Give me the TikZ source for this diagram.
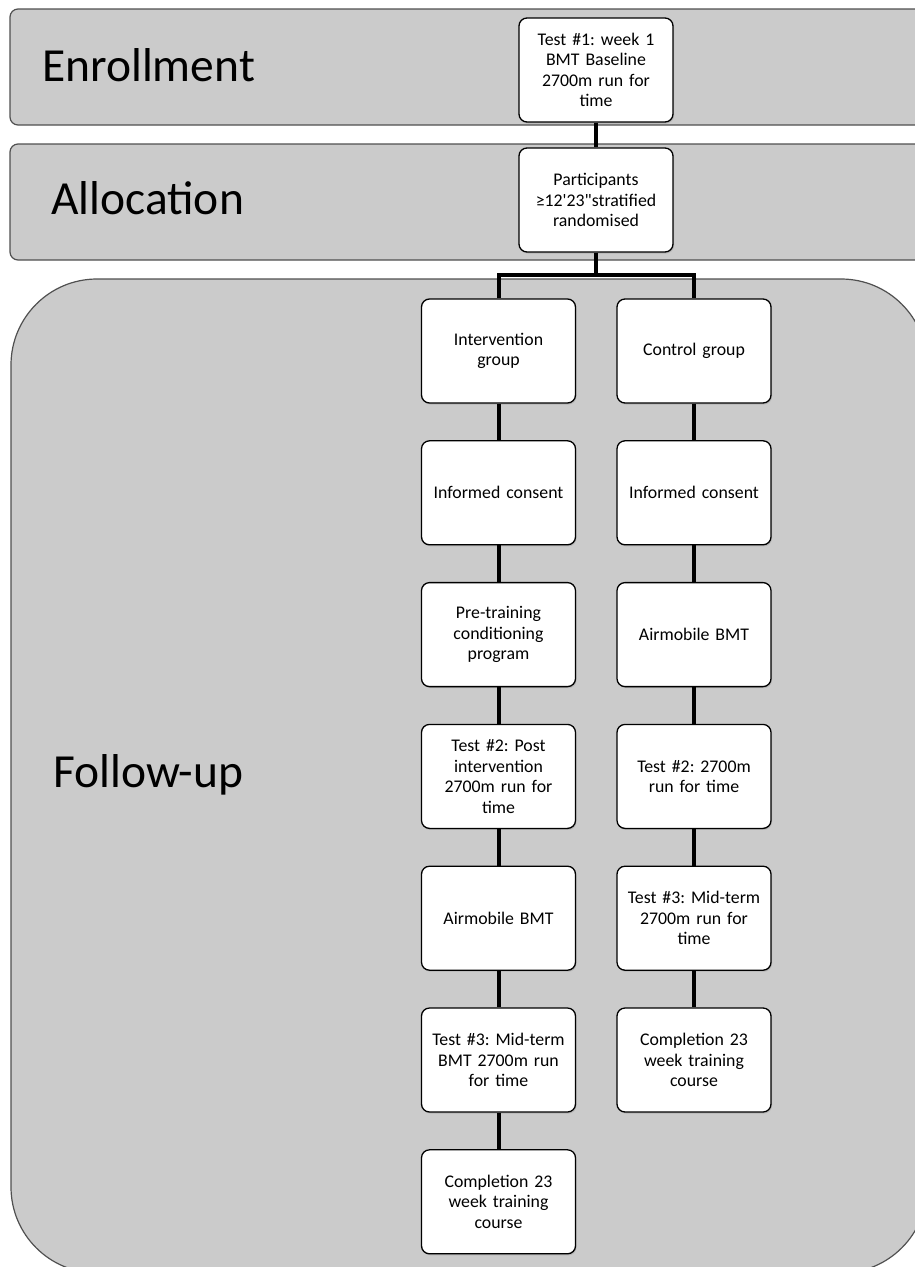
\documentclass[tikz,border=0pt]{standalone}
\usepackage{fontspec}
\setmainfont{Carlito}[Ligatures=TeXOff]
\usetikzlibrary{positioning,shadows}
\definecolor{bandgray}{HTML}{CBCBCB}
\definecolor{bandline}{HTML}{505050}
\frenchspacing
\tikzset{
	band/.style={draw=bandline, line width=1.2pt, fill=bandgray, rounded corners=8pt},
	bandlabel/.style={font=\fontsize{47.5}{54}\selectfont, anchor=base west, inner sep=0pt},
	box/.style={draw, line width=1.3pt, fill=white, rounded corners=8pt,
		minimum width=154pt, minimum height=104pt, text width=146pt, align=center,
		inner sep=2pt, font=\fontsize{17.8}{20.5}\selectfont,
		drop shadow={opacity=0.3, shadow xshift=1pt, shadow yshift=-1.5pt}},
	link/.style={line width=4pt}
}

\begin{document}
\begin{tikzpicture}[x=1pt, y=-1pt, node distance=36.5pt]
	\useasboundingbox (0,0) rectangle (914,1267);
	% bands
	\draw[band] (10,9) rectangle (940,125);
	\draw[band] (10,144) rectangle (940,260);
	\draw[band, rounded corners=86pt] (11,279) rectangle (927,1273);
	\node[bandlabel] (enrl) at (42,81) {Enrollment};
	\node[bandlabel] (allc) at (51,214) {Allocation};
	\node[bandlabel] (fwup) at (53,787) {Follow-up};

	% top boxes
	\node[box] (test1) at (596,70) {Test \#1: week 1\\ BMT Baseline\\ 2700m run for\\ time};
	\node[box] (rand) at (596,200) {Participants\\ ≥12'23"stratified\\ randomised};

	% intervention arm
	\node[box] (i1) at (498.5,351) {Intervention\\ group};
	\node[box, below=of i1] (i2) {Informed consent};
	\node[box, below=of i2] (i3) {Pre-training\\ conditioning\\ program};
	\node[box, below=of i3] (i4) {Test \#2: Post\\ intervention\\ 2700m run for\\ time};
	\node[box, below=of i4] (i5) {Airmobile BMT};
	\node[box, below=of i5] (i6) {Test \#3: Mid-term\\ BMT 2700m run\\ for time};
	\node[box, below=of i6] (i7) {Completion 23\\ week training\\ course};

	% control arm
	\node[box] (c1) at (694,351) {Control group};
	\node[box, below=of c1] (c2) {Informed consent};
	\node[box, below=of c2] (c3) {Airmobile BMT};
	\node[box, below=of c3] (c4) {Test \#2: 2700m\\ run for time};
	\node[box, below=of c4] (c5) {Test \#3: Mid-term\\ 2700m run for\\ time};
	\node[box, below=of c5] (c6) {Completion 23\\ week training\\ course};

	% connectors
	\coordinate (split) at (596,275);
	\draw[link] (test1) -- (rand);
	\draw[link] (rand) -- (split);
	\draw[link] (i1.north) |- (split) -| (c1.north);
	\foreach \a/\b in {i1/i2,i2/i3,i3/i4,i4/i5,i5/i6,i6/i7,c1/c2,c2/c3,c3/c4,c4/c5,c5/c6}
		\draw[link] (\a) -- (\b);
\end{tikzpicture}
\end{document}
